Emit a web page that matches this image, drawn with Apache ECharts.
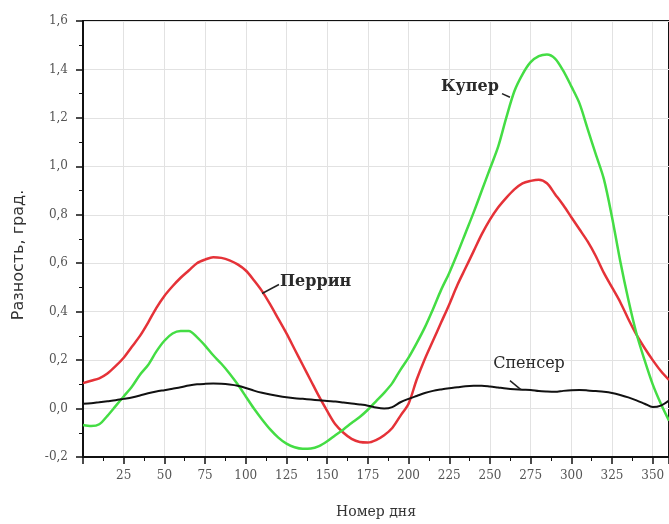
<!DOCTYPE html>
<html><head><meta charset="utf-8">
<script src="https://cdn.jsdelivr.net/npm/echarts@6/dist/echarts.min.js"></script>
<style>html,body{margin:0;padding:0;background:#fff}#c{width:669px;height:524px}</style>
</head><body><div id="c"></div>
<script>
const days = [0,5,10,15,20,25,30,35,40,45,50,55,60,65,70,75,80,85,90,95,100,105,110,115,120,125,130,135,140,145,150,155,160,165,170,175,180,185,190,195,200,205,210,215,220,225,230,235,240,245,250,255,260,265,270,275,280,285,290,295,300,305,310,315,320,325,330,335,340,345,350,355,360];
const perrinVals = [0.105,0.115,0.125,0.145,0.175,0.21,0.255,0.30,0.355,0.415,0.465,0.505,0.54,0.57,0.60,0.615,0.625,0.622,0.612,0.595,0.57,0.53,0.485,0.43,0.37,0.31,0.245,0.18,0.115,0.05,-0.01,-0.065,-0.10,-0.125,-0.138,-0.14,-0.13,-0.11,-0.08,-0.03,0.02,0.12,0.205,0.28,0.355,0.43,0.51,0.58,0.65,0.72,0.78,0.83,0.87,0.905,0.93,0.94,0.945,0.93,0.885,0.84,0.79,0.74,0.69,0.63,0.56,0.50,0.44,0.37,0.305,0.25,0.20,0.155,0.118];
const cooperVals = [-0.068,-0.072,-0.065,-0.03,0.01,0.05,0.09,0.14,0.18,0.235,0.28,0.31,0.32,0.32,0.295,0.26,0.22,0.185,0.145,0.10,0.05,0.0,-0.045,-0.086,-0.12,-0.145,-0.16,-0.166,-0.165,-0.155,-0.135,-0.11,-0.086,-0.06,-0.035,-0.005,0.03,0.065,0.105,0.16,0.21,0.27,0.335,0.41,0.49,0.56,0.64,0.725,0.81,0.90,0.99,1.08,1.20,1.31,1.38,1.43,1.455,1.462,1.445,1.395,1.33,1.26,1.155,1.05,0.947,0.79,0.61,0.45,0.31,0.20,0.10,0.02,-0.05];
const spencerVals = [0.02,0.022,0.026,0.03,0.034,0.04,0.046,0.054,0.063,0.07,0.076,0.082,0.088,0.095,0.1,0.102,0.103,0.102,0.099,0.094,0.085,0.074,0.065,0.058,0.052,0.047,0.043,0.04,0.037,0.034,0.031,0.029,0.025,0.021,0.017,0.012,0.004,0.0,0.006,0.026,0.04,0.052,0.064,0.073,0.079,0.084,0.088,0.092,0.094,0.094,0.091,0.087,0.083,0.08,0.078,0.077,0.072,0.07,0.069,0.073,0.076,0.077,0.075,0.072,0.069,0.064,0.056,0.046,0.034,0.02,0.006,0.012,0.033];
const seriesNames = ['Перрин','Купер','Спенсер'];
// annotation anchors in data units: text anchor, leader start, leader end
const notePerrin = {text:'Перрин', at:[121,0.525], from:[110,0.475], to:[120.4,0.512], align:'left', bold:true};
const noteCooper = {text:'Купер', at:[255.5,1.33], from:[257.4,1.30], to:[262.3,1.285], align:'right', bold:true};
const noteSpencer = {text:'Спенсер', at:[274,0.185], from:[262.3,0.115], to:[269,0.078], align:'center', bold:false};
const xTitle = 'Номер дня';
const yTitle = 'Разность, град.';

const zip = (d,v)=>d.map((x,i)=>[x,v[i]]);
const chart = echarts.init(document.getElementById('c'));
const serif = '"DejaVu Serif","Liberation Serif",serif';
const sans = '"DejaVu Sans","Liberation Sans",sans-serif';
chart.setOption({
  animation:false,
  grid:{left:83,top:21,right:-1,bottom:60,show:true,borderColor:'#111',borderWidth:2,backgroundColor:'#fff'},
  xAxis:{type:'value',min:0,max:360,interval:25,name:xTitle,nameLocation:'middle',nameGap:48,
    nameTextStyle:{fontFamily:serif,fontSize:14,color:'#333'},
    axisLine:{onZero:false,lineStyle:{color:'#111',width:2}},
    axisTick:{show:true,length:7,lineStyle:{color:'#111',width:1.5}},
    minorTick:{show:true,splitNumber:2,length:4,lineStyle:{color:'#111'}},
    axisLabel:{fontFamily:serif,fontSize:12,color:'#555',margin:13,showMinLabel:false,showMaxLabel:false,
      formatter:v=>(v%25===0&&v>0)?String(v):''},
    splitLine:{show:true,lineStyle:{color:'#e2e2e2',width:1}}},
  yAxis:{type:'value',min:-0.2,max:1.6,interval:0.2,
    axisLine:{onZero:false,lineStyle:{color:'#111',width:2}},
    axisTick:{show:true,length:7,lineStyle:{color:'#111',width:1.5}},
    minorTick:{show:true,splitNumber:2,length:4,lineStyle:{color:'#111'}},
    axisLabel:{fontFamily:serif,fontSize:12,color:'#555',margin:15,formatter:v=>v.toFixed(1).replace('.',',')},
    splitLine:{show:true,lineStyle:{color:'#e2e2e2',width:1}}},
  series:[
    {name:seriesNames[0],type:'line',smooth:0.3,showSymbol:false,data:zip(days,perrinVals),lineStyle:{color:'#e53238',width:2.5},z:3},
    {name:seriesNames[1],type:'line',smooth:0.3,showSymbol:false,data:zip(days,cooperVals),lineStyle:{color:'#44dd44',width:2.5},z:4},
    {name:seriesNames[2],type:'line',smooth:0.3,showSymbol:false,data:zip(days,spencerVals),lineStyle:{color:'#111',width:2},z:5}
  ]
});
function notes(){
  const els=[];
  [notePerrin,noteCooper,noteSpencer].forEach(n=>{
    const p=chart.convertToPixel({gridIndex:0},n.at);
    const a=chart.convertToPixel({gridIndex:0},n.from);
    const b=chart.convertToPixel({gridIndex:0},n.to);
    els.push({type:'text',x:p[0],y:p[1],style:{text:n.text,fontFamily:serif,fontSize:16,fontWeight:n.bold?'bold':'normal',fill:'#2a2a2a',textAlign:n.align,textVerticalAlign:'middle'},z:10});
    els.push({type:'line',shape:{x1:a[0],y1:a[1],x2:b[0],y2:b[1]},style:{stroke:'#222',lineWidth:1.5},z:10});
  });
  els.push({type:'text',x:19,y:255,rotation:Math.PI/2,style:{text:yTitle,fontFamily:sans,fontSize:16,fill:'#333',textAlign:'center',textVerticalAlign:'middle'},z:10});
  chart.setOption({graphic:els});
}
notes();
</script></body></html>
